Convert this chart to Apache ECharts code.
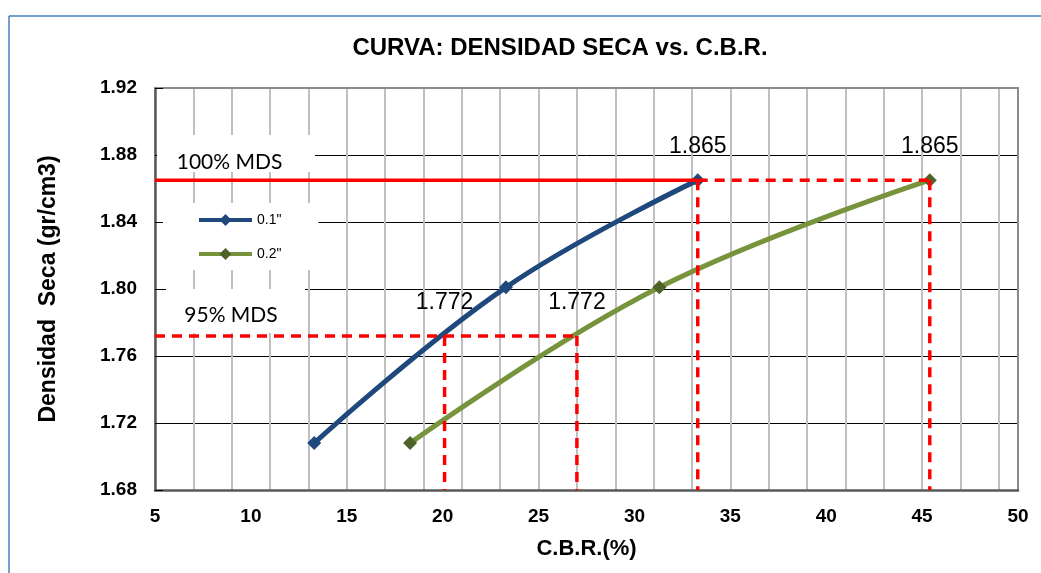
<!DOCTYPE html>
<html><head><meta charset="utf-8">
<script src="https://cdn.jsdelivr.net/npm/echarts@6/dist/echarts.min.js"></script>
<style>html,body{margin:0;padding:0;background:#fff}#c{width:1041px;height:573px}</style>
</head><body><div id="c"></div>
<script>
// ---- data ----
const densidad = [1.708, 1.801, 1.865];       // dry density (gr/cm3)
const cbr01 = [13.3, 23.3, 33.3];             // C.B.R. at 0.1"
const cbr02 = [18.3, 31.3, 45.4];             // C.B.R. at 0.2"
const seriesNames = ['0.1"', '0.2"'];
const mds100 = 1.865;                         // 100% MDS
const mds95 = 1.772;                          // 95% MDS
const cbrAt100 = [33.3, 45.4];
const cbrAt95 = [20.1, 27.0];
const xMin = 5, xMax = 50, xStep = 5, xMinorStep = 2;
const yMin = 1.68, yMax = 1.92, yStep = 0.04;

const FONT = 'Liberation Sans, Arial, sans-serif';
const RED = '#ff0000';

const pts = (xs) => xs.map((x, i) => [x, densidad[i]]);

const dashedSegs = [
  [[cbrAt100[0], mds100], [cbrAt100[1], mds100]],
  [[cbrAt100[0], mds100], [cbrAt100[0], yMin]],
  [[cbrAt100[1], mds100], [cbrAt100[1], yMin]],
  [[xMin, mds95], [cbrAt95[1], mds95]],
  [[cbrAt95[0], mds95], [cbrAt95[0], yMin]],
  [[cbrAt95[1], mds95], [cbrAt95[1], yMin]]
];

const series = [
  {
    name: seriesNames[0], type: 'line', data: pts(cbr01), smooth: 0.4,
    xAxisIndex: 0, yAxisIndex: 0,
    symbol: 'diamond', symbolSize: 14, z: 2,
    lineStyle: { color: '#1f497d', width: 5 },
    itemStyle: { color: '#1f497d' }
  },
  {
    name: seriesNames[1], type: 'line', data: pts(cbr02), smooth: 0.4,
    xAxisIndex: 0, yAxisIndex: 0,
    symbol: 'diamond', symbolSize: 14, z: 2,
    lineStyle: { color: '#77933c', width: 5 },
    itemStyle: { color: '#4f6228' }
  },
  {
    type: 'line', data: [[xMin, mds100], [cbrAt100[0], mds100]],
    symbol: 'none', z: 3, silent: true,
    lineStyle: { color: RED, width: 3.5 }
  }
];
dashedSegs.forEach(seg => series.push({
  type: 'line', data: seg, symbol: 'none', z: 3, silent: true,
  lineStyle: { color: RED, width: 3.5, type: [10, 7] }
}));
series.push({
  type: 'scatter', symbolSize: 1, z: 5, silent: true,
  itemStyle: { opacity: 0 },
  data: [[cbrAt100[0], mds100], [cbrAt100[1], mds100], [cbrAt95[0], mds95], [cbrAt95[1], mds95]],
  label: {
    show: true, position: 'top', distance: 21,
    formatter: p => p.value[1].toFixed(3),
    fontFamily: FONT, fontSize: 23, color: '#000', opacity: 1,
    textBorderWidth: 0
  }
});

const chart = echarts.init(document.getElementById('c'), null, { renderer: 'canvas' });
chart.setOption({
  backgroundColor: '#fff',
  animation: false,
  title: {
    text: 'CURVA: DENSIDAD SECA vs. C.B.R.',
    left: 560, top: 36, padding: 0, textAlign: 'center',
    textStyle: { fontFamily: FONT, fontSize: 24, fontWeight: 'bold', color: '#000' }
  },
  legend: {
    data: seriesNames, orient: 'vertical', left: 163, top: 203,
    backgroundColor: '#fff', padding: [10, 37, 9, 34],
    itemWidth: 53, itemHeight: 15, itemGap: 20,
    lineStyle: { width: 4 },
    textStyle: { fontFamily: FONT, fontSize: 14, color: '#000' }
  },
  grid: { left: 155, right: 23, top: 88, bottom: 83, containLabel: false },
  xAxis: [
    {
      type: 'value', min: xMin, max: xMax, interval: xStep, position: 'bottom',
      name: 'C.B.R.(%)', nameLocation: 'middle', nameGap: 48,
      nameTextStyle: { fontFamily: FONT, fontSize: 22, fontWeight: 'bold', color: '#000' },
      axisLine: { show: true, lineStyle: { color: '#595959', width: 2.5 } },
      axisTick: { show: false },
      axisLabel: { margin: 17, fontFamily: FONT, fontSize: 19, fontWeight: 'bold', color: '#000' },
      splitLine: { show: false }
    },
    {
      type: 'value', min: xMin, max: xMax, interval: xMinorStep, position: 'top',
      axisLine: { show: true, lineStyle: { color: '#8c8c8c', width: 2 } },
      axisTick: { show: false }, axisLabel: { show: false },
      splitLine: { show: true, lineStyle: { color: '#bfbfbf', width: 2 } }
    }
  ],
  yAxis: [
    {
      type: 'value', min: yMin, max: yMax, interval: yStep, position: 'left',
      name: 'Densidad  Seca (gr/cm3)', nameLocation: 'middle', nameGap: 95,
      nameTextStyle: { fontFamily: FONT, fontSize: 23, fontWeight: 'bold', color: '#000' },
      axisLine: { show: true, lineStyle: { color: '#595959', width: 2.5 } },
      axisTick: { show: true, inside: true, length: 8, lineStyle: { color: '#000', width: 1 } },
      axisLabel: { margin: 18, fontFamily: FONT, fontSize: 19, fontWeight: 'bold', color: '#000',
        formatter: v => v.toFixed(2) },
      splitLine: { show: true, lineStyle: { color: '#000', width: 1 } }
    },
    {
      type: 'value', min: yMin, max: yMax, interval: yStep, position: 'right',
      axisLine: { show: true, lineStyle: { color: '#8c8c8c', width: 2 } },
      axisTick: { show: false }, axisLabel: { show: false }, splitLine: { show: false }
    }
  ],
  graphic: [
    { type: 'line', shape: { x1: 9, y1: 16, x2: 1041, y2: 16 }, style: { stroke: '#4a7ebb', lineWidth: 1.5 }, z: 100 },
    { type: 'line', shape: { x1: 9, y1: 16, x2: 9, y2: 573 }, style: { stroke: '#4a7ebb', lineWidth: 1.5 }, z: 100 },
    { type: 'rect', shape: { x: 157, y: 135, width: 158, height: 37 }, style: { fill: '#fff' }, z: 100 },
    { type: 'text', x: 229.5, y: 162, z: 101,
      style: { text: '100% MDS', fontFamily: 'Lato, sans-serif', fontSize: 21, fill: '#000', align: 'center', verticalAlign: 'middle' } },
    { type: 'rect', shape: { x: 166, y: 289, width: 139, height: 44 }, style: { fill: '#fff' }, z: 100 },
    { type: 'text', x: 231, y: 315, z: 101,
      style: { text: '95% MDS', fontFamily: 'Lato, sans-serif', fontSize: 21, fill: '#000', align: 'center', verticalAlign: 'middle' } }
  ],
  series: series
});
</script>
</body></html>
